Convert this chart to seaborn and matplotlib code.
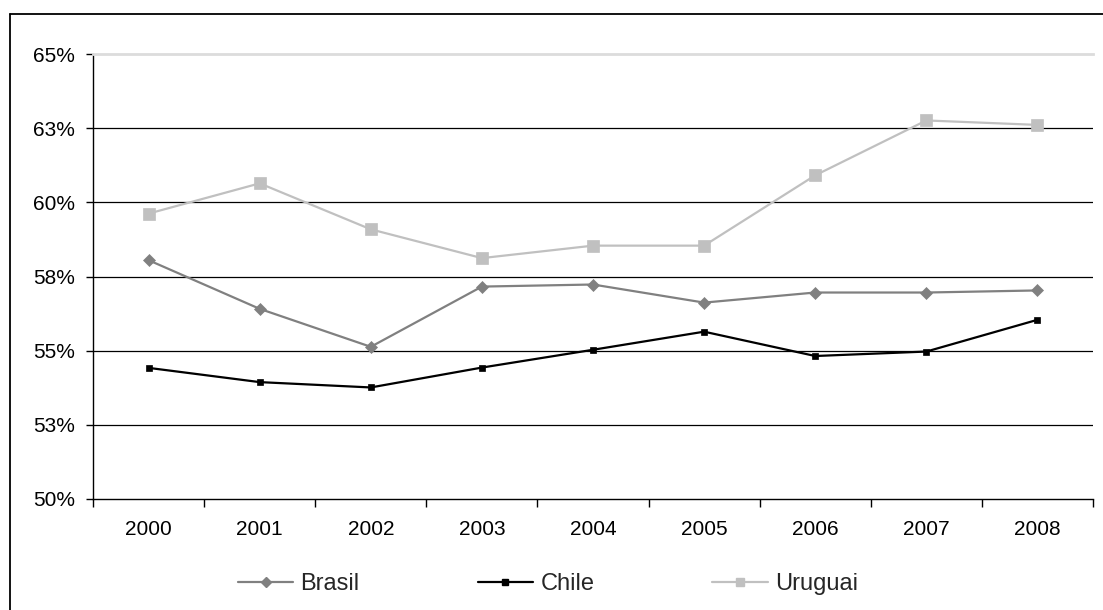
import matplotlib
matplotlib.use("Agg")
import matplotlib.pyplot as plt
from matplotlib.lines import Line2D
import seaborn as sns
import pandas as pd

years = ["2000", "2001", "2002", "2003", "2004", "2005", "2006", "2007", "2008"]
brasil = [58.05, 56.41, 55.13, 57.16, 57.23, 56.62, 56.96, 56.96, 57.03]
chile = [54.42, 53.94, 53.76, 54.43, 55.03, 55.64, 54.82, 54.97, 56.04]
uruguai = [59.62, 60.64, 59.09, 58.12, 58.54, 58.54, 60.91, 62.76, 62.61]

y_ticks = [50, 52.5, 55, 57.5, 60, 62.5, 65]
y_labels = ["50%", "53%", "55%", "58%", "60%", "63%", "65%"]

sns.set_theme(style="white")
plt.rcParams["font.family"] = ["Liberation Sans", "DejaVu Sans"]

fig = plt.figure(figsize=(11.03, 6.10), dpi=100)
ax = fig.add_axes([93 / 1103, 1 - 499 / 610, 1000 / 1103, 445 / 610])

series = [
    ("Brasil", brasil, "#808080", "D", 6.5),
    ("Chile", chile, "#000000", "s", 5.0),
    ("Uruguai", uruguai, "#c0c0c0", "s", 8.0),
]

df = pd.DataFrame({"ano": years})
for name, vals, color, marker, ms in series:
    df[name] = vals
    sns.lineplot(data=df, x="ano", y=name, ax=ax, color=color, marker=marker,
                 markersize=ms, markeredgecolor=color, markeredgewidth=0.5,
                 linewidth=1.6, label=name, legend=False, zorder=3)

ax.set_xlim(-0.5, len(years) - 0.5)
ax.set_ylim(y_ticks[0], y_ticks[-1])

# horizontal guide lines at the inner ticks
for yv in y_ticks[1:-1]:
    ax.axhline(yv, color="black", linewidth=0.9, zorder=1)

ax.set_yticks(y_ticks)
ax.set_yticklabels(y_labels)

# tick marks between categories, labels centred on categories
ax.set_xticks([i - 0.5 for i in range(len(years) + 1)])
ax.set_xticklabels([])
ax.set_xticks(range(len(years)), minor=True)
ax.set_xticklabels(years, minor=True)

ax.tick_params(axis="x", which="major", direction="out", length=6, width=1,
               color="black", bottom=True)
ax.tick_params(axis="x", which="minor", length=0, pad=15, labelsize=15,
               labelcolor="black", bottom=True)
ax.tick_params(axis="y", direction="out", length=5, width=1, color="black",
               pad=8, labelsize=15, labelcolor="black", left=True)

ax.set_xlabel("")
ax.set_ylabel("")

for side in ["left", "bottom"]:
    ax.spines[side].set_color("black")
    ax.spines[side].set_linewidth(1.0)
ax.spines["right"].set_visible(False)
ax.spines["top"].set_color("#dcdcdc")
ax.spines["top"].set_linewidth(2.0)

handles = [Line2D([], [], color=c, marker=m, markersize=ms * 0.8,
                  markeredgecolor=c, linewidth=1.6)
           for _, _, c, m, ms in series]
fig.legend(handles, [s[0] for s in series], loc="center left",
           bbox_to_anchor=(238 / 1103, 1 - 584 / 610), ncol=3, frameon=False,
           fontsize=17, handlelength=2.35, handletextpad=0.3,
           columnspacing=5.0, borderpad=0, borderaxespad=0)

# outer frame
x0 = 9.5 / 1103
y0 = 1 - 13.5 / 610
fig.add_artist(Line2D([x0, x0], [0, y0], transform=fig.transFigure,
                      color="black", linewidth=1.3))
fig.add_artist(Line2D([x0, 1], [y0, y0], transform=fig.transFigure,
                      color="black", linewidth=1.3))

fig.savefig("out.png", dpi=100, facecolor="white")
